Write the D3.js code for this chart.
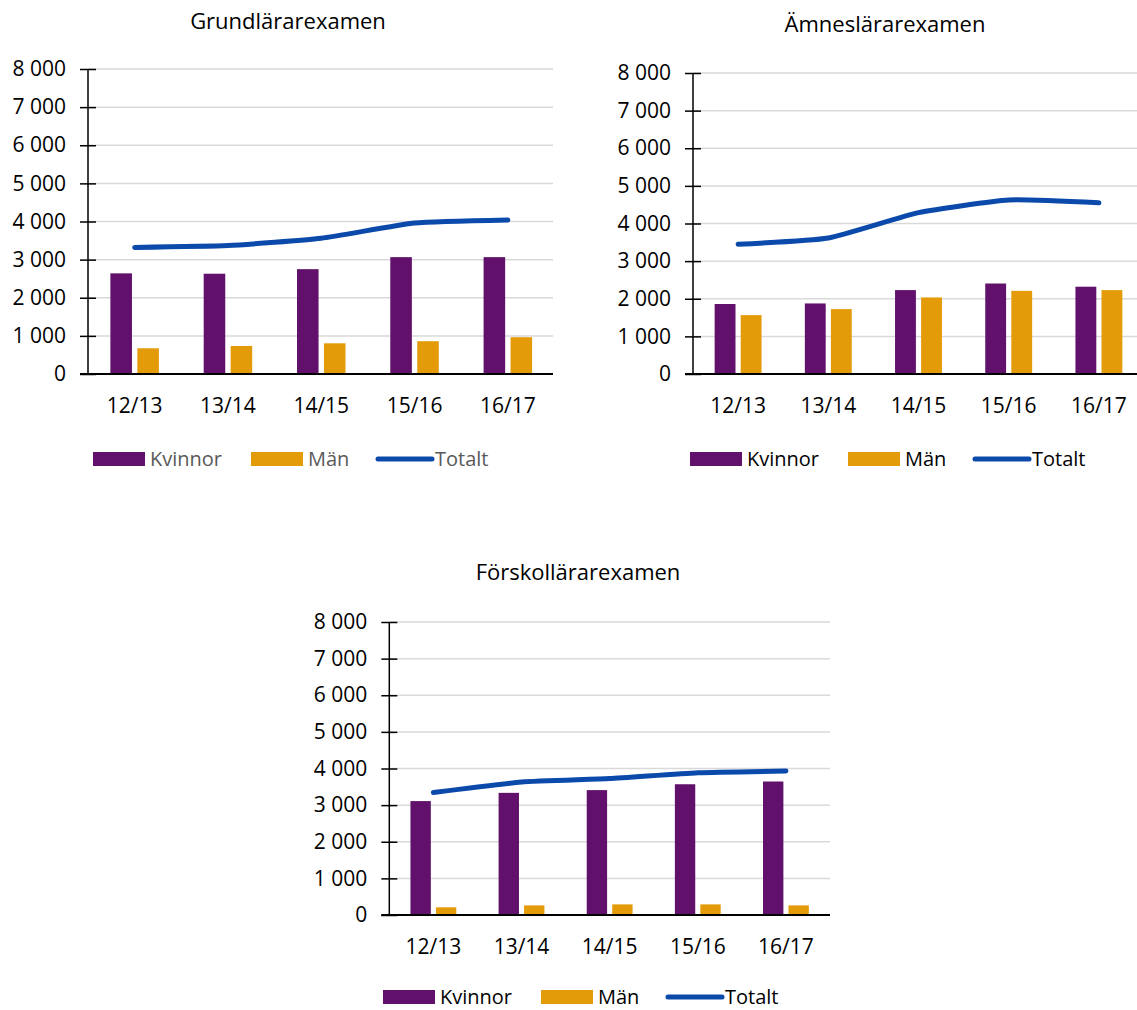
<!DOCTYPE html>
<html>
<head>
<meta charset="utf-8">
<script src="https://cdn.jsdelivr.net/npm/d3@7"></script>
<style>
  body { margin: 0; background: #fff; }
  text { font-family: "Open Sans", sans-serif; }
</style>
</head>
<body>
<svg id="chart" width="1137" height="1010"></svg>
<script>
// data
var years = ["12/13", "13/14", "14/15", "15/16", "16/17"];
var yTicks = [0, 1000, 2000, 3000, 4000, 5000, 6000, 7000, 8000];
var seriesNames = ["Kvinnor", "Män", "Totalt"];

var grundKvinnor = [2640, 2630, 2750, 3065, 3065];
var grundMan = [675, 735, 805, 860, 965];
var grundTotalt = [3320, 3370, 3560, 3960, 4040];

var amnesKvinnor = [1860, 1875, 2230, 2405, 2320];
var amnesMan = [1565, 1725, 2035, 2210, 2230];
var amnesTotalt = [3450, 3615, 4290, 4625, 4550];

var forskKvinnor = [3110, 3335, 3410, 3570, 3645];
var forskMan = [210, 262, 290, 290, 262];
var forskTotalt = [3345, 3630, 3725, 3885, 3930];

var colors = { kv: "#61106b", man: "#e49b0a", tot: "#0b4aaa" };

var locale = d3.formatLocale({ decimal: ",", thousands: " ", grouping: [3], currency: ["", ""] });
var fmt = locale.format(",");

var svg = d3.select("#chart");

function drawChart(o) {
  var g = svg.append("g");

  var x = d3.scaleBand().domain(years).range([o.left, o.right]);
  var bw = x.bandwidth();
  var sub = d3.scaleBand().domain(["Kvinnor", "Män"]).range([0.24 * bw, 0.76 * bw]).paddingInner(0.2);
  var y = d3.scaleLinear().domain([0, 8000]).range([o.bottom, o.top]);

  g.append("text")
    .attr("x", o.titleX).attr("y", o.titleY)
    .attr("text-anchor", "middle")
    .style("font-size", "22px").attr("fill", "#000")
    .text(o.title);

  // gridlines
  g.selectAll(".grid").data(yTicks.slice(1)).enter().append("line")
    .attr("x1", o.left).attr("x2", o.gridEnd)
    .attr("y1", function (d) { return y(d); })
    .attr("y2", function (d) { return y(d); })
    .attr("stroke", "#d9d9d9").attr("stroke-width", 1.5);

  // y axis
  var yAxis = d3.axisLeft(y).tickValues(yTicks).tickFormat(fmt).tickSize(0).tickPadding(22);
  var ya = g.append("g").attr("transform", "translate(" + o.left + ",0)").call(yAxis);
  ya.select(".domain").remove();
  ya.selectAll("text").style("font-size", "21px").attr("fill", "#000");
  ya.selectAll(".tick").append("line")
    .attr("x1", -8).attr("x2", 8).attr("stroke", "#000").attr("stroke-width", 1.5);
  g.append("line")
    .attr("x1", o.left).attr("x2", o.left)
    .attr("y1", y(8000)).attr("y2", y(0))
    .attr("stroke", "#000").attr("stroke-width", 1.5);

  // bars
  var rows = years.map(function (yr, i) {
    return { year: yr, Kvinnor: o.kv[i], "Män": o.man[i] };
  });
  var grp = g.selectAll(".grp").data(rows).enter().append("g")
    .attr("transform", function (d) { return "translate(" + x(d.year) + ",0)"; });
  grp.selectAll("rect")
    .data(function (d) { return ["Kvinnor", "Män"].map(function (k) { return { key: k, value: d[k] }; }); })
    .enter().append("rect")
    .attr("x", function (d) { return sub(d.key); })
    .attr("width", sub.bandwidth())
    .attr("y", function (d) { return y(d.value); })
    .attr("height", function (d) { return y(0) - y(d.value); })
    .attr("fill", function (d) { return d.key == "Kvinnor" ? colors.kv : colors.man; });

  // x axis
  g.append("line")
    .attr("x1", o.left - 8).attr("x2", o.gridEnd)
    .attr("y1", y(0)).attr("y2", y(0))
    .attr("stroke", "#000").attr("stroke-width", 1.8);
  var xAxis = d3.axisBottom(x).tickSize(0).tickPadding(o.xPad);
  var xa = g.append("g").attr("transform", "translate(0," + o.bottom + ")").call(xAxis);
  xa.select(".domain").remove();
  xa.selectAll("text").style("font-size", "21px").attr("fill", "#000");

  // total line
  var line = d3.line()
    .x(function (d, i) { return x(years[i]) + bw / 2; })
    .y(function (d) { return y(d); })
    .curve(d3.curveCardinal.tension(0.5));
  g.append("path").datum(o.tot)
    .attr("d", line)
    .attr("fill", "none").attr("stroke", colors.tot)
    .attr("stroke-width", 5).attr("stroke-linecap", "round");

  // legend
  var lg = g.append("g").attr("transform", "translate(" + o.legX + "," + o.legY + ")");
  lg.append("rect").attr("x", 0).attr("y", -7).attr("width", 52).attr("height", 14).attr("fill", colors.kv);
  lg.append("text").attr("x", 57).attr("y", 7).text(seriesNames[0]);
  lg.append("rect").attr("x", 158).attr("y", -7).attr("width", 52).attr("height", 14).attr("fill", colors.man);
  lg.append("text").attr("x", 215).attr("y", 7).text(seriesNames[1]);
  lg.append("line").attr("x1", 285).attr("x2", 339).attr("y1", 0).attr("y2", 0)
    .attr("stroke", colors.tot).attr("stroke-width", 5).attr("stroke-linecap", "round");
  lg.append("text").attr("x", 342).attr("y", 7).text(seriesNames[2]);
  lg.selectAll("text").style("font-size", "20px").attr("fill", o.legColor);
}

drawChart({
  title: "Grundlärarexamen", titleX: 288, titleY: 29,
  left: 88, right: 554.5, gridEnd: 553, top: 69, bottom: 374, xPad: 24,
  kv: grundKvinnor, man: grundMan, tot: grundTotalt,
  legX: 93, legY: 459, legColor: "#595959"
});

drawChart({
  title: "Ämneslärarexamen", titleX: 885, titleY: 32,
  left: 693, right: 1144, gridEnd: 1137, top: 73, bottom: 374, xPad: 24,
  kv: amnesKvinnor, man: amnesMan, tot: amnesTotalt,
  legX: 690, legY: 459, legColor: "#000"
});

drawChart({
  title: "Förskollärarexamen", titleX: 578, titleY: 580,
  left: 389.3, right: 830, gridEnd: 830, top: 622, bottom: 915, xPad: 24,
  kv: forskKvinnor, man: forskMan, tot: forskTotalt,
  legX: 383, legY: 997, legColor: "#000"
});
</script>
</body>
</html>
